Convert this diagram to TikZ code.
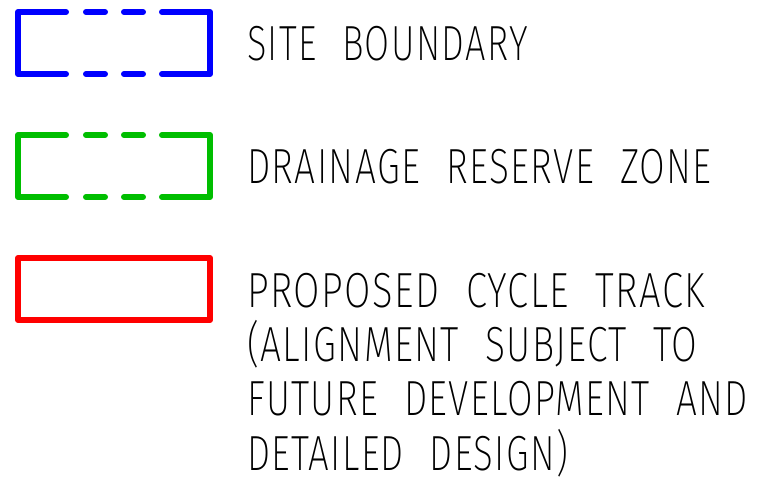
\documentclass[tikz,border=0pt]{standalone}
\usepackage{fontspec}
\usepackage{graphicx}
\IfFontExistsTF{Fira Sans ExtraLight}
  {\setmainfont{Fira Sans ExtraLight}[FakeStretch=0.78,LetterSpace=3]}
  {\IfFontExistsTF{Fira Sans Light}
    {\setmainfont{Fira Sans Light}[FakeStretch=0.78,LetterSpace=3]}
    {\setmainfont{Liberation Sans}[FakeStretch=0.78,LetterSpace=3]}}
\definecolor{legblue}{RGB}{0,0,255}
\definecolor{leggreen}{RGB}{0,190,0}
\definecolor{legred}{RGB}{255,0,0}
\newcommand\wsp{\hspace{0.55em}}
\newcommand\fitline[2]{\resizebox{#1pt}{\height}{#2}}
\begin{document}
\begin{tikzpicture}[x=0.75pt,y=-0.75pt,
  legline/.style={line width=4.5pt,line cap=round,line join=round},
  legtext/.style={anchor=base west,inner sep=0pt,outer sep=0pt,
    font=\fontsize{37pt}{44pt}\selectfont}]
\useasboundingbox[fill=white] (0,0) rectangle (757,484);
% site boundary (blue dashed)
\begin{scope}[legline,draw=legblue]
  \draw (66,12) -- (18,12) -- (18,74) -- (66,74);
  \draw (162,12) -- (210,12) -- (210,74) -- (162,74);
  \draw (86,12) -- (105,12);
  \draw (124,12) -- (143,12);
  \draw (86,74) -- (105,74);
  \draw (124,74) -- (143,74);
\end{scope}
% drainage reserve zone (green dashed)
\begin{scope}[legline,draw=leggreen]
  \draw (66,135) -- (18,135) -- (18,197) -- (66,197);
  \draw (162,135) -- (210,135) -- (210,197) -- (162,197);
  \draw (86,135) -- (105,135);
  \draw (124,135) -- (143,135);
  \draw (86,197) -- (105,197);
  \draw (124,197) -- (143,197);
\end{scope}
% proposed cycle track (red solid)
\draw[legline,draw=legred] (18,258) rectangle (210,320);
% texts
\node[legtext] (t1) at (247,61) {\fitline{210.5}{SITE\wsp BOUNDARY}};
\node[legtext] (t2) at (247,184) {\fitline{348.5}{DRAINAGE\wsp RESERVE\wsp ZONE}};
\node[legtext] (t3) at (247,308) {\fitline{343.5}{PROPOSED\wsp CYCLE\wsp TRACK}};
\node[legtext] (t4) at (247,362) {\fitline{337.5}{(ALIGNMENT\wsp SUBJECT\wsp TO}};
\node[legtext] (t5) at (247,416) {\fitline{375.5}{FUTURE\wsp DEVELOPMENT\wsp AND}};
\node[legtext] (t6) at (247,471) {\fitline{241}{DETAILED\wsp DESIGN)}};
\end{tikzpicture}
\end{document}
